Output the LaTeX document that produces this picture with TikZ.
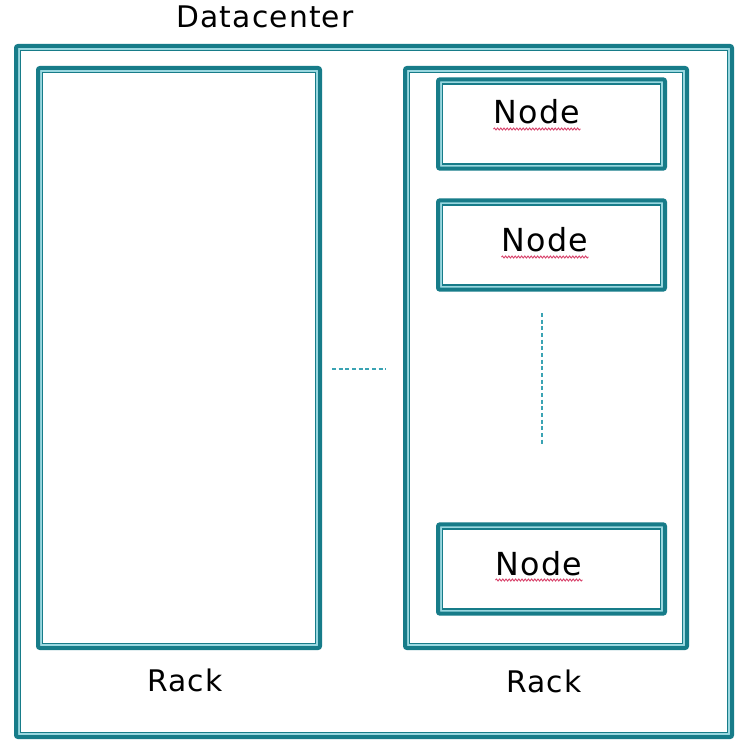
\documentclass[tikz,border=0pt]{standalone}
\usepackage{fontspec}
\setmainfont{DejaVu Sans}[LetterSpace=4]
\usepackage{tikz}
\usetikzlibrary{calc}
\usetikzlibrary{decorations.pathmorphing}

\definecolor{dcteal}{HTML}{177C89}
\definecolor{dclight}{HTML}{9AD8E0}
\definecolor{dcdash}{HTML}{3AA3B3}
\definecolor{dcspell}{HTML}{D9466E}

\tikzset{
	frame/.style={draw=dcteal, line width=3pt, rounded corners=1.5pt, outer sep=0pt, inner sep=0pt,
		append after command={\pgfextra{
			\draw[dclight, line width=1.5pt]($(\tikzlastnode.south west)+(2.25pt,2.25pt)$) rectangle ($(\tikzlastnode.north east)-(2.25pt,2.25pt)$);
			\draw[dcteal, line width=1.1pt]($(\tikzlastnode.south west)+(3.55pt,3.55pt)$) rectangle ($(\tikzlastnode.north east)-(3.55pt,3.55pt)$);
		}}},
	rackbox/.style={frame, minimum width=211.5pt, minimum height=435pt},
	nodebox/.style={frame, minimum width=170.25pt, minimum height=67pt},
	caption/.style={anchor=base, inner sep=0pt, font=\fontsize{22.3pt}{26pt}\selectfont},
	nodetext/.style={anchor=base, inner sep=0pt, font=\fontsize{23.8pt}{28pt}\selectfont},
	gap/.style={dcdash, line width=0.8pt, dash pattern=on 3pt off 2pt},
	spell/.style={dcspell, line width=0.7pt, decorate, decoration={snake, amplitude=0.75pt, segment length=2.4pt}}
}

\begin{document}
\begin{tikzpicture}[x=0.75pt, y=-0.75pt]
			\useasboundingbox[fill=white](0, 0) rectangle (740, 741);

			% datacenter and its two racks
			\node[frame, minimum width=537pt, minimum height=518.25pt] (dc) at (374, 391.5) {};
			\node[rackbox] (rackL) at (179, 358) {};
			\node[rackbox] (rackR) at (546, 358) {};

			% nodes of the right rack
			\node[nodebox] (n1) at (551.5, 124) {};
			\node[nodebox] (n2) at (551.5, 245) {};
			\node[nodebox] (n3) at (551.5, 569) {};

			\node[caption] (dcname) at (265, 28) {Datacenter};
			\node[caption] (rackLname) at (185, 691) {Rack};
			\node[caption] (rackRname) at (544, 692) {Rack};

			\node[nodetext] (n1name) at (537, 124) {Node};
			\node[nodetext] (n2name) at (545, 252) {Node};
			\node[nodetext] (n3name) at (539, 575) {Node};

			% spell check marks under the node texts
			\foreach \t in {n1name, n2name, n3name}
				\draw[spell]($(\t.base west)+(0, 5)$)--($(\t.base east)+(0, 5)$);

			% more racks, more nodes
			\draw[gap](332, 369)--(386, 369);
			\draw[gap](542, 313)--(542, 445);
		\end{tikzpicture}
\end{document}
